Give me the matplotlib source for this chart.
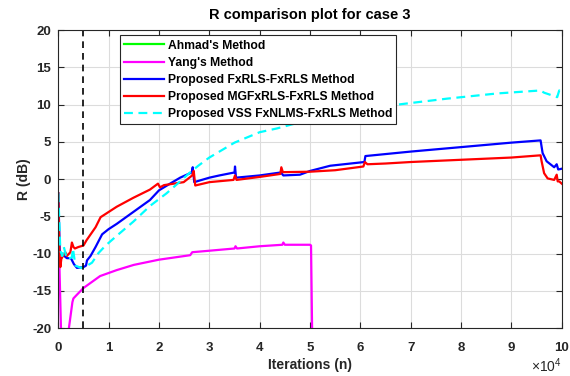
import matplotlib
matplotlib.use("Agg")
import matplotlib.pyplot as plt

plt.rcParams['font.family'] = ['Liberation Sans', 'DejaVu Sans']
plt.rcParams['mathtext.fontset'] = 'custom'
plt.rcParams['mathtext.rm'] = 'Liberation Sans'
plt.rcParams['axes.unicode_minus'] = False

AXIS_GREY = "#262626"

# R (dB) versus iteration count, case 3
ahmad_n = []
ahmad_r = []

yang_n = [0, 200, 600, 1200, 1800, 2000, 2800, 3000, 3700, 5000, 8300, 11600,
          15000, 20000, 26200, 26600, 30000, 35000, 35200, 35500, 40000, 44500,
          44700, 45000, 50000, 50200, 50600]
yang_r = [-10.0, -11.0, -22.0, -24.0, -22.0, -20.5, -16.5, -16.0, -15.5, -14.6,
          -13.0, -12.2, -11.5, -10.8, -10.2, -9.8, -9.6, -9.3, -9.0, -9.3, -9.0,
          -8.8, -8.5, -8.8, -8.8, -8.9, -30.0]

fxrls_n = [0, 300, 1000, 1700, 2500, 3100, 3700, 5000, 5500, 5700, 6400, 7400,
           8700, 10000, 11600, 14900, 18200, 20000, 22200, 24200, 26500, 26700,
           27000, 30000, 32000, 35000, 35100, 35300, 40000, 44200, 44700, 48000,
           50000, 54000, 60800, 61000, 70000, 80000, 90000, 95800, 96200, 97000,
           98500, 99000, 99300, 100000]
fxrls_r = [-1.9, -10.0, -10.2, -10.6, -10.6, -11.4, -11.9, -11.8, -11.6, -10.9,
           -10.3, -9.1, -7.4, -6.7, -6.0, -4.4, -2.8, -1.5, -0.6, 0.2, 0.9, 1.6,
           -0.4, 0.2, 0.5, 0.9, 1.7, 0.2, 0.5, 0.9, 0.5, 0.6, 1.1, 1.8, 2.3, 3.1,
           3.7, 4.3, 4.9, 5.2, 3.5, 2.4, 1.6, 2.0, 1.3, 1.4]

mgfxrls_n = [0, 200, 400, 600, 1000, 1400, 1700, 2400, 2700, 3000, 3300, 4000,
             5000, 5600, 7400, 8400, 10000, 11600, 14900, 18200, 19800, 20200,
             21000, 24900, 26600, 26900, 27200, 30000, 34800, 35100, 35400,
             40000, 44100, 44300, 44600, 50000, 55000, 60600, 60900, 61400,
             65000, 70000, 80000, 90000, 95800, 96000, 96500, 97200, 98500,
             99000, 99200, 99500, 100000]
mgfxrls_r = [-1.9, -9.5, -11.8, -10.7, -10.2, -9.8, -10.3, -9.8, -8.5, -9.1,
             -9.3, -9.1, -8.9, -8.2, -6.45, -5.1, -4.4, -3.7, -2.5, -1.4, -0.6,
             -1.1, -0.8, -0.4, 0.5, 1.1, -0.85, -0.4, -0.1, 0.5, -0.1, 0.3, 0.7,
             1.6, 0.94, 1.0, 1.2, 1.7, 2.3, 2.0, 2.1, 2.3, 2.6, 2.9, 3.2, 2.4,
             0.8, 0.1, -0.1, 0.6, -0.3, -0.3, -0.6]

vss_n = [0, 400, 800, 1100, 1700, 2700, 2900, 3400, 4500, 5500, 6700, 8000,
         9400, 11600, 14900, 18200, 21500, 24200, 26000, 27800, 30000, 35000,
         40000, 43400, 50000, 55000, 60000, 65000, 68600, 77200, 87200, 95800,
         96500, 99100, 99500, 100000]
vss_r = [-1.9, -9.6, -10.3, -9.1, -10.7, -10.5, -9.3, -11.6, -11.9, -11.7, -11.2,
         -9.9, -8.9, -7.6, -5.7, -3.6, -1.9, -0.3, 0.8, 1.8, 2.9, 4.9, 6.3, 6.8,
         8.0, 8.8, 9.4, 9.8, 10.1, 10.8, 11.5, 11.9, 11.6, 11.0, 11.9, 11.6]

switch_n = 5000

x_ticks = list(range(0, 100001, 10000))
x_tick_labels = [str(i) for i in range(0, 11)]
y_ticks = list(range(-20, 21, 5))

fig = plt.figure(figsize=(5.7, 3.76), dpi=100)
ax = fig.add_axes([0.1023, 0.127, 0.8832, 0.793])

lw = 1.6
ax.plot(ahmad_n, ahmad_r, color=(0, 1, 0), lw=lw, label="Ahmad's Method")
ax.plot(yang_n, yang_r, color=(1, 0, 1), lw=lw, label="Yang's Method")
ax.plot(fxrls_n, fxrls_r, color=(0, 0, 1), lw=lw,
        label="Proposed FxRLS-FxRLS Method")
ax.plot(mgfxrls_n, mgfxrls_r, color=(1, 0, 0), lw=lw,
        label="Proposed MGFxRLS-FxRLS Method")
ax.plot(vss_n, vss_r, color=(0, 1, 1), lw=lw, dashes=(4, 2.5),
        label="Proposed VSS FxNLMS-FxRLS Method")
ax.axvline(switch_n, color='k', lw=1.2, dashes=(4, 3))

ax.set_xlim(0, 100000)
ax.set_ylim(-20, 20)
ax.set_xticks(x_ticks)
ax.set_xticklabels(x_tick_labels)
ax.set_yticks(y_ticks)

ax.grid(True, color='#dcdcdc', lw=0.8)
ax.set_axisbelow(True)
ax.tick_params(direction='in', length=4, width=0.8, colors=AXIS_GREY,
               top=True, right=True, labelsize=9.5)
ax.tick_params(axis='x', pad=10)
ax.tick_params(axis='y', pad=5)
for lab in ax.get_xticklabels() + ax.get_yticklabels():
    lab.set_fontweight('bold')
for side in ax.spines.values():
    side.set_color(AXIS_GREY)
    side.set_linewidth(0.8)

ax.set_title("R comparison plot for case 3", fontsize=10.5, fontweight='bold',
             color='k', pad=8)
ax.set_xlabel("Iterations (n)", fontsize=10, fontweight='bold',
              color=AXIS_GREY, labelpad=3)
ax.set_ylabel("R (dB)", fontsize=10, fontweight='bold', color=AXIS_GREY,
              labelpad=1)
fig.text(0.985, 0.011, r'$\times10^{4}$', ha='right', va='baseline',
         fontsize=10, color=AXIS_GREY)

leg = ax.legend(loc='upper left', bbox_to_anchor=(0.1226, 0.982),
                borderaxespad=0, fancybox=False, framealpha=1,
                edgecolor=AXIS_GREY, handlelength=3.3, handletextpad=0.3,
                labelspacing=0.42, borderpad=0.35,
                prop={'weight': 'bold', 'size': 8.7})
leg.get_frame().set_linewidth(0.8)

fig.savefig("out.png", dpi=100)
